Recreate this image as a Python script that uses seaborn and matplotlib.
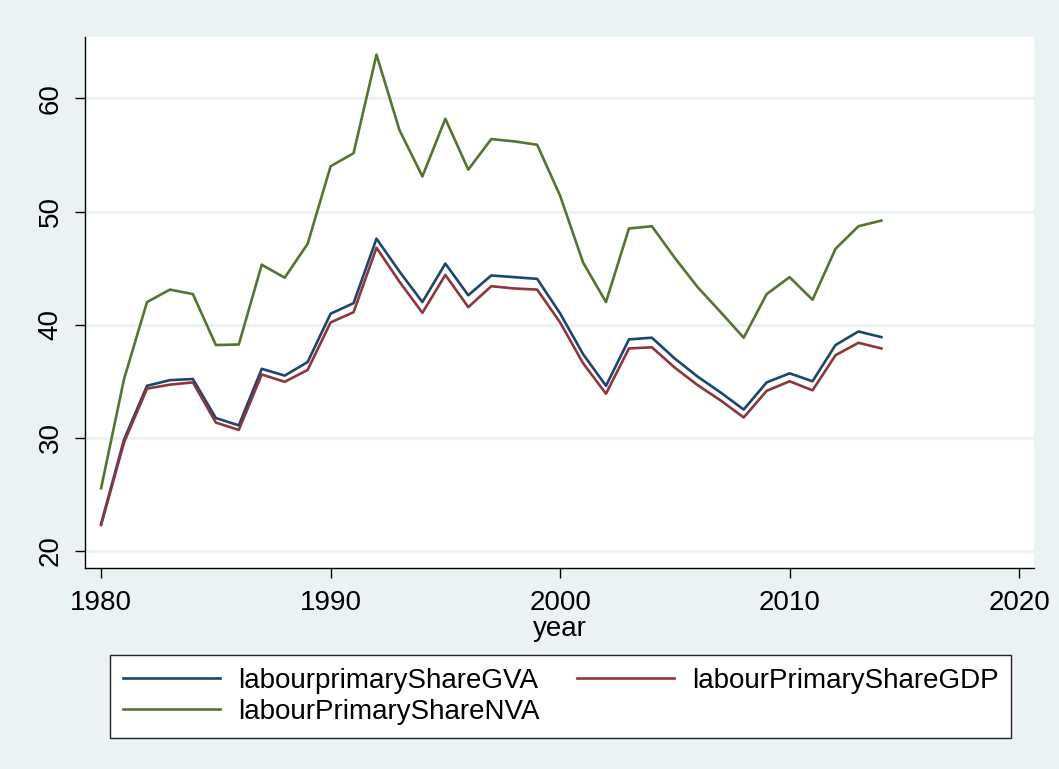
import pandas as pd
import matplotlib
matplotlib.use("Agg")
import matplotlib.pyplot as plt
import seaborn as sns

years = list(range(1980, 2015))

share_gva = [22.4, 29.85, 34.6, 35.1, 35.2, 31.75, 31.1, 36.1, 35.5, 36.7,
             40.97, 41.9, 47.6, 44.7, 42.0, 45.4, 42.6, 44.35, 44.2, 44.05,
             41.0, 37.4, 34.6, 38.7, 38.85, 37.0, 35.4, 34.0, 32.5, 34.9,
             35.7, 35.0, 38.2, 39.4, 38.9]

share_gdp = [22.3, 29.6, 34.35, 34.7, 34.9, 31.35, 30.7, 35.6, 34.95, 36.0,
             40.2, 41.1, 46.8, 43.8, 41.05, 44.4, 41.55, 43.4, 43.2, 43.1,
             40.2, 36.6, 33.9, 37.9, 38.0, 36.2, 34.65, 33.3, 31.8, 34.15,
             35.0, 34.2, 37.3, 38.4, 37.9]

share_nva = [25.55, 35.2, 42.0, 43.1, 42.7, 38.2, 38.25, 45.3, 44.15, 47.15,
             54.0, 55.15, 63.86, 57.2, 53.1, 58.2, 53.7, 56.4, 56.2, 55.9,
             51.4, 45.5, 42.0, 48.5, 48.7, 45.9, 43.3, 41.1, 38.85, 42.7,
             44.2, 42.2, 46.7, 48.7, 49.2]

series_names = ["labourprimaryShareGVA", "labourPrimaryShareGDP", "labourPrimaryShareNVA"]
colors = ["#1a476f", "#90353b", "#55752f"]

df = pd.DataFrame({"year": years,
                   series_names[0]: share_gva,
                   series_names[1]: share_gdp,
                   series_names[2]: share_nva})
long_df = df.melt(id_vars="year", var_name="series", value_name="value")

bg = "#eaf2f3"
plt.rcParams["font.family"] = ["Liberation Sans", "DejaVu Sans"]

fig = plt.figure(figsize=(10.59, 7.69), dpi=100, facecolor=bg)
ax = fig.add_axes([0.0803, 0.2614, 0.8961, 0.6909])
ax.set_facecolor("white")

sns.lineplot(data=long_df, x="year", y="value", hue="series",
             hue_order=series_names, palette=colors, linewidth=1.9,
             ax=ax, legend=False)

ax.set_xlim(1979.3, 2020.65)
ax.set_ylim(18.5, 65.45)
ax.set_xticks([1980, 1990, 2000, 2010, 2020])
ax.set_yticks([20, 30, 40, 50, 60])
ax.set_yticklabels(["20", "30", "40", "50", "60"], rotation=90, va="center")
ax.grid(axis="y", color=bg, linewidth=2.2)
ax.grid(axis="x", visible=False)
ax.set_axisbelow(True)

for side in ["top", "right"]:
    ax.spines[side].set_visible(False)
for side in ["left", "bottom"]:
    ax.spines[side].set_color("black")
    ax.spines[side].set_linewidth(1.0)

ax.tick_params(axis="both", direction="out", length=7.5, width=1.0,
               labelsize=20, colors="black", pad=8)
ax.set_xlabel("year", fontsize=20, labelpad=0)
ax.set_ylabel("")

handles = [plt.Line2D([], [], color=c, linewidth=1.9) for c in colors]
order = [0, 2, 1]
leg = fig.legend([handles[i] for i in order], [series_names[i] for i in order],
                 ncol=2, loc="upper left",
                 bbox_to_anchor=(110 / 1059, 1 - 655 / 769),
                 fontsize=20, frameon=True, fancybox=False, framealpha=1.0,
                 handlelength=3.5, handletextpad=0.65, borderpad=0.45,
                 labelspacing=0.2, columnspacing=1.35, borderaxespad=0.0)
leg.get_frame().set_edgecolor("#222222")
leg.get_frame().set_linewidth(1.0)
leg.get_frame().set_facecolor("white")

fig.savefig("out.png", dpi=100, facecolor=bg)
